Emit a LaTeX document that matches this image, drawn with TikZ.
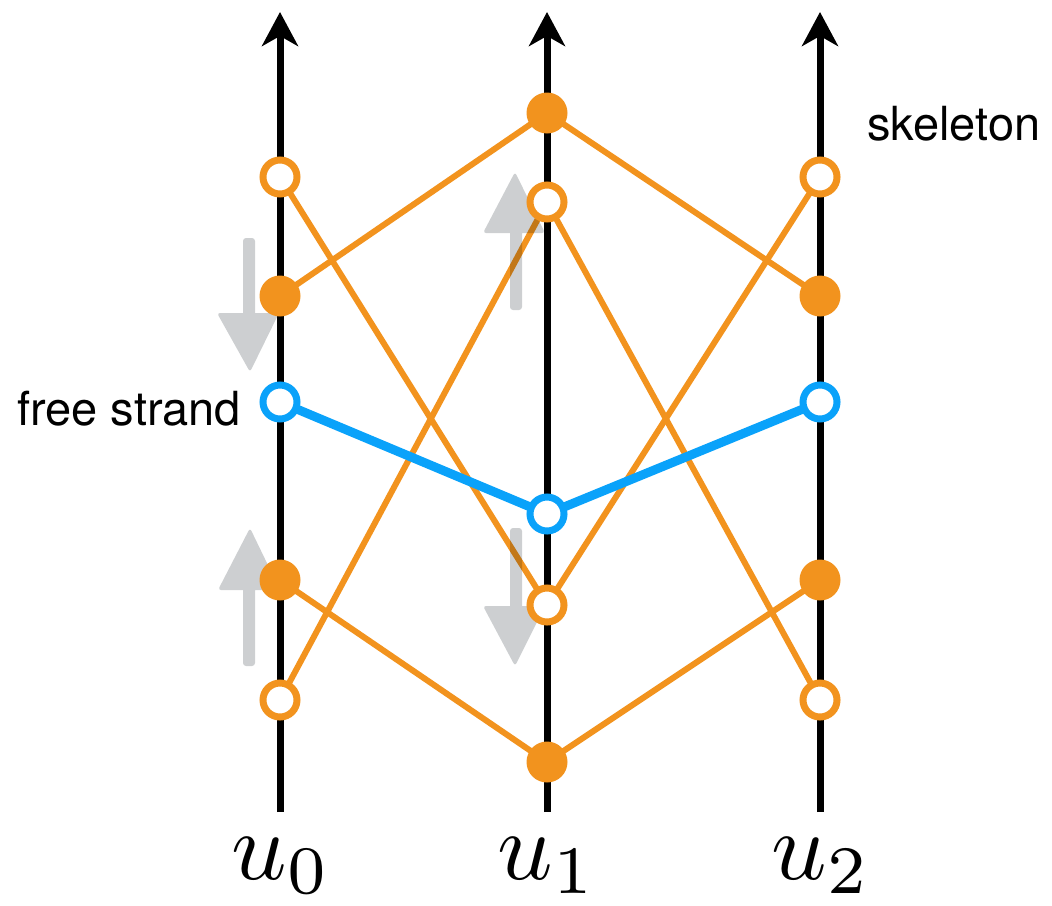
\documentclass[tikz,border=0pt]{standalone}
\usepackage{fontspec}
\newfontfamily\labelfont{TeX Gyre Heros}
\usetikzlibrary{arrows.meta}
\definecolor{orng}{RGB}{242,147,30}
\definecolor{blu}{RGB}{10,162,250}
\definecolor{gry}{RGB}{205,207,209}
\tikzset{
  axis/.style={line width=7pt, black, -{Stealth[length=34pt,width=36pt,inset=10pt]}},
  edge/.style={line width=6pt, orng},
  free/.style={line width=9pt, blu},
  full/.style={circle, fill=orng, minimum size=41pt, inner sep=0pt},
  hollow/.style={circle, draw=orng, fill=white, line width=7pt, minimum size=34pt, inner sep=0pt},
  bhollow/.style={circle, draw=blu, fill=white, line width=7pt, minimum size=34pt, inner sep=0pt},
  grayarrow/.style={fill=gry, rounded corners=3pt},
  lbl/.style={font=\labelfont\fontsize{47}{50}\selectfont, inner sep=0pt},
  ulbl/.style={font=\fontsize{10}{10}\selectfont, scale=9.7, inner sep=0pt, anchor=base}
}
\begin{document}
\begin{tikzpicture}[x=1pt,y=-1pt]
\useasboundingbox (0,0) rectangle (1052,905);
% axes
\coordinate (b0) at (280,812); \coordinate (t0) at (280,12);
\coordinate (b1) at (547,812); \coordinate (t1) at (547,12);
\coordinate (b2) at (820,812); \coordinate (t2) at (820,12);
\draw[axis] (b0) -- (t0);
\draw[axis] (b1) -- (t1);
\draw[axis] (b2) -- (t2);
% node positions
\coordinate (a1) at (280,177); \coordinate (a2) at (280,296); \coordinate (a3) at (280,402); \coordinate (a4) at (280,580); \coordinate (a5) at (280,700);
\coordinate (m1) at (547,113); \coordinate (m2) at (547,202); \coordinate (m3) at (547,514); \coordinate (m4) at (547,605); \coordinate (m5) at (547,762);
\coordinate (c1) at (820,177); \coordinate (c2) at (820,296); \coordinate (c3) at (820,402); \coordinate (c4) at (820,580); \coordinate (c5) at (820,700);
% orange edges
\draw[edge] (a1) -- (m4);
\draw[edge] (a2) -- (m1) -- (c2);
\draw[edge] (a5) -- (m2) -- (c5);
\draw[edge] (c1) -- (m4);
\draw[edge] (a4) -- (m5) -- (c4);
% gray arrows
\begin{scope}[blend mode=multiply]
\fill[grayarrow] (243,238) -- (255,238) -- (255,320) -- (243,320) -- cycle
  (217,313) -- (279,313) -- (250,372) -- cycle;
\fill[grayarrow] (510,310) -- (522,310) -- (522,228) -- (510,228) -- cycle
  (483,233) -- (545,233) -- (515,172) -- cycle;
\fill[grayarrow] (243,666) -- (255,666) -- (255,585) -- (243,585) -- cycle
  (218,590) -- (280,590) -- (250,528) -- cycle;
\fill[grayarrow] (510,528) -- (522,528) -- (522,612) -- (510,612) -- cycle
  (483,606) -- (545,606) -- (515,666) -- cycle;
\end{scope}
% free strand
\draw[free] (a3) -- (m3) -- (c3);
% nodes
\node[hollow] (A1) at (a1) {}; \node[full] (A2) at (a2) {}; \node[bhollow] (A3) at (a3) {}; \node[full] (A4) at (a4) {}; \node[hollow] (A5) at (a5) {};
\node[full] (M1) at (m1) {}; \node[hollow] (M2) at (m2) {}; \node[bhollow] (M3) at (m3) {}; \node[hollow] (M4) at (m4) {}; \node[full] (M5) at (m5) {};
\node[hollow] (C1) at (c1) {}; \node[full] (C2) at (c2) {}; \node[bhollow] (C3) at (c3) {}; \node[full] (C4) at (c4) {}; \node[hollow] (C5) at (c5) {};
% labels
\node[lbl, anchor=base west] (sk) at (867,140) {skeleton};
\node[lbl, anchor=base west] (fs) at (17,425) {free strand};
\node[ulbl] (u0) at (281,879) {$u_0$};
\node[ulbl] (u1) at (547,879) {$u_1$};
\node[ulbl] (u2) at (821,879) {$u_2$};
\end{tikzpicture}
\end{document}
